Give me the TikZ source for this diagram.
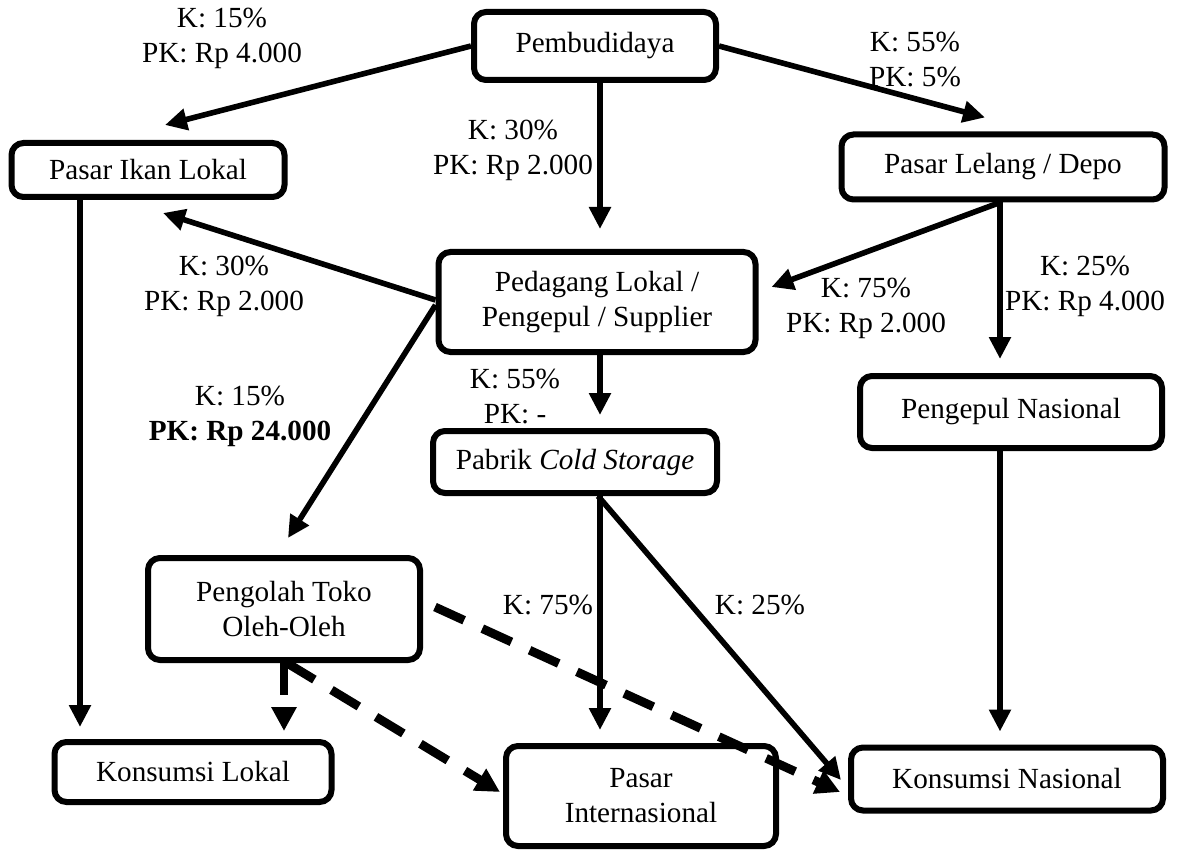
\documentclass[tikz,border=0pt]{standalone}
\usepackage{fontspec}
\setmainfont{Liberation Serif}
\usetikzlibrary{arrows.meta,calc}
\begin{document}
\begin{tikzpicture}[x=0.5pt,y=-0.5pt,
  font=\fontsize{14.6}{17.5}\selectfont,
  box/.style={draw,line width=3pt,rounded corners=6pt,align=center,inner sep=0pt},
  flow/.style={line width=2.8pt,-{Triangle[length=11pt,width=10.5pt]}},
  dflow/.style={line width=4.4pt,dash pattern=on 16pt off 10pt,-{Triangle[length=12pt,width=12pt]}},
  lbl/.style={align=center,inner sep=0pt}]
\useasboundingbox[fill=white] (0,0) rectangle (1178,850);

% actors in the distribution chain
\node[box,minimum width=121pt,minimum height=34pt] (pem) at (595,46) {Pembudidaya};
\node[box,minimum width=136.5pt,minimum height=27pt] (pil) at (148,170) {Pasar Ikan Lokal};
\node[box,minimum width=161.5pt,minimum height=32.5pt] (plg) at (1003,167) {Pasar Lelang / Depo};
\node[box,minimum width=158.5pt,minimum height=50pt] (ped) at (597,302) {Pedagang Lokal /\\Pengepul / Supplier};
\node[box,minimum width=142pt,minimum height=31pt] (pcs) at (575,462) {Pabrik \textit{Cold Storage}};
\node[box,minimum width=151pt,minimum height=36pt] (pnas) at (1011,412) {Pengepul Nasional};
\node[box,minimum width=136pt,minimum height=51pt] (pto) at (284,609) {Pengolah Toko\\Oleh-Oleh};
\node[box,minimum width=138.5pt,minimum height=30pt] (kl) at (193,772) {Konsumsi Lokal};
\node[box,minimum width=135pt,minimum height=50pt] (pint) at (641,796) {Pasar\\Internasional};
\node[box,minimum width=156pt,minimum height=31.5pt] (kn) at (1007,779) {Konsumsi Nasional};

% solid flows
\draw[flow] (pem.west) -- ($(pil.north)+(17,-15)$);
\draw[flow] ($(pem.south)+(5,0)$) -- ($(ped.north)+(3,-20)$);
\draw[flow] (pem.east) -- ($(plg.north)+(-18,-14)$);
\draw[flow] ($(plg.south)+(-3,0)$) -- ($(ped.east)+(13,-15)$);
\draw[flow] ($(plg.south)+(-3,0)$) -- ($(pnas.north)+(-11,-14)$);
\draw[flow] ($(ped.west)+(0,-2)$) -- ($(pil.south)+(15,13)$);
\draw[flow] ($(ped.west)+(0,3)$) -- ($(pto.north)+(4,-17)$);
\draw[flow] ($(ped.south)+(3,0)$) -- ($(pcs.north)+(25,-13)$);
\draw[flow] ($(pil.south)+(-68,0)$) -- ($(kl.north)+(-113,-12)$);
\draw[flow] ($(pnas.south)+(-11,0)$) -- ($(kn.north)+(-7,-13)$);
\draw[flow] ($(pcs.south)+(25,0)$) -- ($(pint.north)+(-41,-13)$);
\draw[flow] ($(pcs.south)+(23,0)$) -- ($(kn.west)+(-7,1)$);

% dashed flows from the processor
\draw[dflow] ($(pto.east)+(12,-2)$) -- ($(kn.west)+(-8,13)$);
\draw[dflow] ($(pto.south)+(0,0)$) -- ($(kl.north)+(91,-8)$);
\draw[dflow] ($(pto.south)+(3,0)$) -- ($(pint.west)+(-3,-4)$);

% shares (K) and price differences (PK)
\node[lbl] (l1) at (222,38) {K: 15\%\\PK: Rp 4.000};
\node[lbl] (l2) at (513,150) {K: 30\%\\PK: Rp 2.000};
\node[lbl] (l3) at (915,60) {K: 55\%\\PK: 5\%};
\node[lbl] (l4) at (224,286) {K: 30\%\\PK: Rp 2.000};
\node[lbl] (l5) at (866,308) {K: 75\%\\PK: Rp 2.000};
\node[lbl] (l6) at (1085,286) {K: 25\%\\PK: Rp 4.000};
\node[lbl] (l7) at (515,396) {K: 55\%\\PK: -};
\node[lbl] (l8) at (240,416) {K: 15\%\\\textbf{PK: Rp 24.000}};
\node[lbl] (l9) at (548,605) {K: 75\%};
\node[lbl] (l10) at (760,605) {K: 25\%};
\end{tikzpicture}
\end{document}
